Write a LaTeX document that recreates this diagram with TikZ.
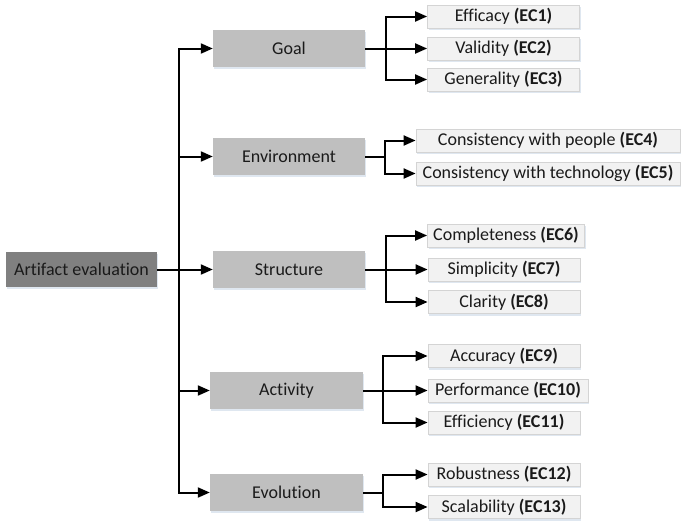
\documentclass[tikz,border=0pt]{standalone}
\usepackage{fontspec}
\setmainfont{Carlito}[Ligatures={NoCommon}]
\usetikzlibrary{arrows.meta,shadows}
\definecolor{rootfill}{HTML}{808080}
\definecolor{midfill}{HTML}{BFBFBF}
\definecolor{leaffill}{HTML}{F2F2F2}
\definecolor{leafdraw}{HTML}{D4D4D4}
\definecolor{txt}{HTML}{1A1A1A}
\definecolor{shade}{HTML}{C9D7E6}
\tikzset{
  boxbase/.style={inner sep=0pt, text=txt, font=\fontsize{18}{21}\selectfont,
    drop shadow={shadow xshift=1pt, shadow yshift=-2pt, fill=shade, opacity=0.6}},
  rootbox/.style={boxbase, fill=rootfill, minimum width=151pt, minimum height=35pt},
  midbox/.style={boxbase, fill=midfill, minimum width=152pt, minimum height=37pt},
  leafbox/.style={boxbase, fill=leaffill, draw=leafdraw, line width=0.8pt, minimum width=152pt, minimum height=23pt},
  conn/.style={line width=2pt, draw=black},
  arr/.style={conn, -{Triangle[length=12pt,width=10pt]}}
}
\begin{document}
\begin{tikzpicture}[x=1pt,y=-1pt]
\useasboundingbox (0,0) rectangle (698,525);
% root
\node[rootbox] (root) at (81.5,269.5) {Artifact evaluation};
% level 1
\node[midbox] (goal) at (289,48.5) {Goal};
\node[midbox] (env) at (289,156.5) {Environment};
\node[midbox] (struct) at (289,269.5) {Structure};
\node[midbox, minimum width=153pt] (act) at (286.5,390.5) {Activity};
\node[midbox, minimum width=153pt] (evol) at (286.5,492.5) {Evolution};
% level 2
\node[leafbox] (ec1) at (503.5,16.5) {Efficacy \textbf{(EC1)}};
\node[leafbox] (ec2) at (503.5,48.5) {Validity \textbf{(EC2)}};
\node[leafbox] (ec3) at (503.5,79.5) {Generality \textbf{(EC3)}};
\node[leafbox, minimum width=264pt] (ec4) at (548,140.5) {Consistency with people \textbf{(EC4)}};
\node[leafbox, minimum width=264pt] (ec5) at (548,173.5) {Consistency with technology \textbf{(EC5)}};
\node[leafbox, minimum width=157pt] (ec6) at (506,235.5) {Completeness \textbf{(EC6)}};
\node[leafbox] (ec7) at (504,269.5) {Simplicity \textbf{(EC7)}};
\node[leafbox] (ec8) at (504,302) {Clarity \textbf{(EC8)}};
\node[leafbox] (ec9) at (504,356) {Accuracy \textbf{(EC9)}};
\node[leafbox, minimum width=160pt] (ec10) at (508,390.5) {Performance \textbf{(EC10)}};
\node[leafbox] (ec11) at (504,422.5) {Efficiency \textbf{(EC11)}};
\node[leafbox] (ec12) at (504,474.5) {Robustness \textbf{(EC12)}};
\node[leafbox] (ec13) at (504,507) {Scalability \textbf{(EC13)}};
% junction coordinates
\coordinate (tk) at (179,0);
\coordinate (jg) at (386,0);
\coordinate (je) at (385,0);
\coordinate (js) at (386,0);
\coordinate (ja) at (383,0);
\coordinate (jv) at (383,0);
% trunk
\draw[arr] (root.east) -- (struct.west);
\draw[arr] (tk |- evol.west) -- (tk |- goal.west) -- (goal.west);
\draw[arr] (tk |- goal.west) -- (tk |- evol.west) -- (evol.west);
\draw[arr] (tk |- env.west) -- (env.west);
\draw[arr] (tk |- act.west) -- (act.west);
% goal
\draw[arr] (goal.east) -- (ec2.west);
\draw[arr] (jg |- ec3.west) -- (jg |- ec1.west) -- (ec1.west);
\draw[arr] (jg |- ec1.west) -- (jg |- ec3.west) -- (ec3.west);
% environment
\draw[conn] (env.east) -- (je |- env.east);
\draw[arr] (je |- ec5.west) -- (je |- ec4.west) -- (ec4.west);
\draw[arr] (je |- ec4.west) -- (je |- ec5.west) -- (ec5.west);
% structure
\draw[arr] (struct.east) -- (ec7.west);
\draw[arr] (js |- ec8.west) -- (js |- ec6.west) -- (ec6.west);
\draw[arr] (js |- ec6.west) -- (js |- ec8.west) -- (ec8.west);
% activity
\draw[arr] (act.east) -- (ec10.west);
\draw[arr] (ja |- ec11.west) -- (ja |- ec9.west) -- (ec9.west);
\draw[arr] (ja |- ec9.west) -- (ja |- ec11.west) -- (ec11.west);
% evolution
\draw[conn] (evol.east) -- (jv |- evol.east);
\draw[arr] (jv |- ec13.west) -- (jv |- ec12.west) -- (ec12.west);
\draw[arr] (jv |- ec12.west) -- (jv |- ec13.west) -- (ec13.west);
\end{tikzpicture}
\end{document}
